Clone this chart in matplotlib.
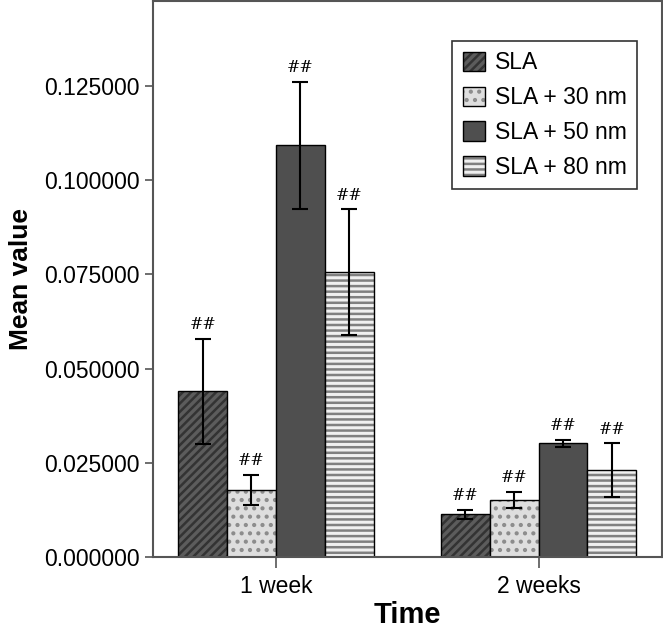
import numpy as np
import matplotlib
matplotlib.use('Agg')
import matplotlib.pyplot as plt

# values
groups = ['1 week', '2 weeks']
series = ['SLA', 'SLA + 30 nm', 'SLA + 50 nm', 'SLA + 80 nm']
means = {
    'SLA':         [0.0440, 0.0114],
    'SLA + 30 nm': [0.0178, 0.0151],
    'SLA + 50 nm': [0.1093, 0.0302],
    'SLA + 80 nm': [0.0756, 0.0231],
}
errs = {
    'SLA':         [0.0140, 0.0012],
    'SLA + 30 nm': [0.0041, 0.0022],
    'SLA + 50 nm': [0.0168, 0.0009],
    'SLA + 80 nm': [0.0167, 0.0071],
}
yticks = [0.0, 0.025, 0.05, 0.075, 0.1, 0.125]

plt.rcParams['font.family'] = ['Liberation Sans', 'DejaVu Sans']
plt.rcParams['hatch.linewidth'] = 1.8

styles = {
    'SLA':         dict(color='#5c5c5c', hatch='////', hc='#333333'),
    'SLA + 30 nm': dict(color='#dedede', hatch='..', hc='#8c8c8c'),
    'SLA + 50 nm': dict(color='#4f4f4f', hatch=None, hc='#4f4f4f'),
    'SLA + 80 nm': dict(color='#f0f0f0', hatch='---', hc='#808080'),
}

fig = plt.figure(figsize=(6.63, 6.30), dpi=100)
ax = fig.add_axes([153 / 663, 73 / 630, 509 / 663, 556 / 630])

x = np.arange(len(groups))
w = 0.186
for i, s in enumerate(series):
    pos = x + (i - 1.5) * w
    st = styles[s]
    bars = ax.bar(pos, means[s], width=w, color=st['color'], edgecolor='black',
                  linewidth=1.0, hatch=st['hatch'], label=s, zorder=2)
    for b in bars:
        b._hatch_color = matplotlib.colors.to_rgba(st['hc'])
    ax.errorbar(pos, means[s], yerr=errs[s], fmt='none', ecolor='black',
                elinewidth=1.5, capsize=6, capthick=1.5, zorder=3)
    for p, m, e in zip(pos, means[s], errs[s]):
        ax.text(p, m + e + 0.0015, '##', ha='center', va='bottom',
                fontsize=11.5, family='DejaVu Serif')

ax.set_xlim(-0.468, 1.47)
ax.set_ylim(0, 0.1476)
ax.set_yticks(yticks)
ax.set_yticklabels([f'{v:.6f}' for v in yticks])
ax.set_xticks(x)
ax.set_xticklabels(groups)
ax.tick_params(axis='both', labelsize=16.5, length=6, width=1.2, color='#555555')
ax.tick_params(axis='x', length=8, pad=5)
for sp in ax.spines.values():
    sp.set_linewidth(1.5)
    sp.set_color('#555555')

ax.set_ylabel('Mean value', fontsize=19, fontweight='bold', labelpad=8)
ax.set_xlabel('Time', fontsize=21, fontweight='bold', labelpad=2)

leg = ax.legend(loc='upper right', bbox_to_anchor=(0.951, 0.928), fontsize=16.5,
                frameon=True, fancybox=False, edgecolor='black',
                handlelength=0.95, handleheight=0.95, handletextpad=0.45,
                labelspacing=0.52, borderpad=0.45, borderaxespad=0)
leg.get_frame().set_linewidth(1.2)

fig.savefig('out.png', dpi=100)
